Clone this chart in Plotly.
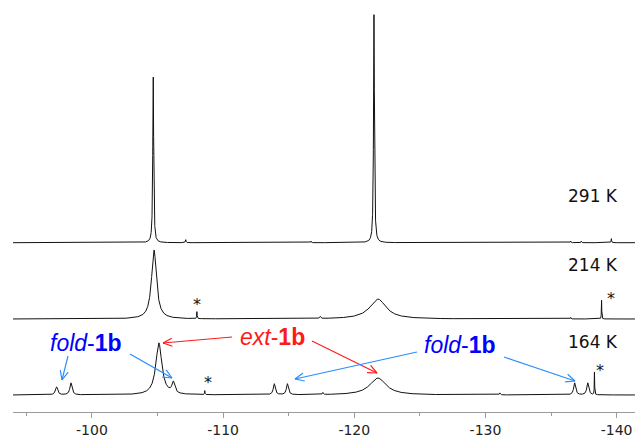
import numpy as np
import plotly.graph_objects as go

# ---------------- data (peak lists) ----------------
# chemical shift axis (ppm), left -> right
X_LEFT, X_RIGHT = -93.98, -141.4

# 291 K trace
t291_pos = [-104.67, -121.5, -107.15, -116.7, -136.5, -137.3, -139.6]
t291_height = [166, 228, 3, 1.5, 1.5, 1.5, 4]
t291_fwhm = [0.08, 0.08, 0.05, 0.05, 0.05, 0.05, 0.04]
t291_baseline = 169.3

# 214 K trace
t214_pos = [-104.73, -108.0, -117.4, -121.8, -136.5, -138.85]
t214_height = [69, 7, 2, 20, 1.5, 19]
t214_fwhm = [0.45, 0.04, 0.1, 1.5, 0.05, 0.03]
t214_baseline = 93

# 164 K trace
t164_pos = [-97.3, -98.4, -105.1, -106.2, -108.6, -113.9, -114.9,
            -117.6, -121.8, -131.1, -136.8, -137.8, -138.31]
t164_height = [8, 12, 52, 11, 4, 11, 11, 2, 17, 2, 12, 12, 23]
t164_fwhm = [0.2, 0.2, 0.55, 0.25, 0.04, 0.18, 0.18, 0.08, 1.5, 0.08, 0.18, 0.18, 0.03]
t164_baseline = 17

trace_labels = ["291 K", "214 K", "164 K"]
tick_vals = [-100, -110, -120, -130, -140]
tick_text = ["-100", "-110", "-120", "-130", "-140"]
minor_vals = [-95, -105, -115, -125, -135]

# ---------------- build figure ----------------
grid = np.arange(X_LEFT, X_RIGHT, -0.004)


def spectrum(pos, height, fwhm, base):
    y = np.full_like(grid, base, dtype=float)
    for p, h, w in zip(pos, height, fwhm):
        y += h / (1.0 + ((grid - p) / (w / 2.0)) ** 2)
    return y


fig = go.Figure()
for pos, h, w, b in [(t291_pos, t291_height, t291_fwhm, t291_baseline),
                     (t214_pos, t214_height, t214_fwhm, t214_baseline),
                     (t164_pos, t164_height, t164_fwhm, t164_baseline)]:
    fig.add_trace(go.Scatter(x=grid, y=spectrum(pos, h, w, b), mode="lines",
                             line=dict(color="#111111", width=1),
                             hoverinfo="skip", showlegend=False))

W, H = 635, 437
ML, MR, MT, MB = 13, 0, 0, 25
YMAX = H - MT - MB
plot_w = W - ML - MR
px_per_ppm = plot_w / (X_LEFT - X_RIGHT)


def to_data(px, py):
    """pixel -> data coordinates (for annotation placement)"""
    return X_LEFT - (px - ML) / px_per_ppm, (H - MB) - py


shapes = []
annotations = []


def arrow(p0, p1, color):
    x0, y0 = to_data(*p0)
    x1, y1 = to_data(*p1)
    shapes.append(dict(type="line", xref="x", yref="y", x0=x0, y0=y0, x1=x1, y1=y1,
                       line=dict(color=color, width=1.2)))
    dx, dy = p1[0] - p0[0], p1[1] - p0[1]
    L = (dx * dx + dy * dy) ** 0.5
    ux, uy = dx / L, dy / L
    blen, ang = 10.0, np.deg2rad(24)
    for s in (1, -1):
        c, sn = np.cos(s * ang), np.sin(s * ang)
        bx = -(ux * c - uy * sn) * blen
        by = -(ux * sn + uy * c) * blen
        bx0, by0 = to_data(p1[0] + bx, p1[1] + by)
        shapes.append(dict(type="line", xref="x", yref="y", x0=bx0, y0=by0, x1=x1, y1=y1,
                           line=dict(color=color, width=1.2)))


def text(px, py, s, size, color, family="Liberation Sans, Arial", anchor="center"):
    x, y = to_data(px, py)
    annotations.append(dict(x=x, y=y, xref="x", yref="y", text=s, showarrow=False,
                            xanchor=anchor, yanchor="middle",
                            font=dict(size=size, color=color, family=family)))


RED = "#ff1a1a"
BLUE_T = "#0000ff"
BLUE_A = "#2a8cff"

# temperature labels
for lab, py in zip(trace_labels, [196, 265, 342]):
    text(620, py, lab, 17, "#111111", family="DejaVu Sans", anchor="right")

# stars
for sx, sy in [(197, 304), (611, 298), (208, 382), (600, 370)]:
    text(sx, sy, "*", 16, "#111111", family="DejaVu Sans")

# compound labels
text(86, 343, "<i>fold</i>-<b>1b</b>", 23, BLUE_T)
text(272, 337, "<i>ext</i>-<b>1b</b>", 23, RED)
text(460, 345, "<i>fold</i>-<b>1b</b>", 23, BLUE_T)

# arrows
arrow((232, 337), (163, 343), RED)
arrow((312, 341), (377, 373), RED)
arrow((68, 356), (62, 380), BLUE_A)
arrow((130, 354), (172, 378), BLUE_A)
arrow((417, 352), (295, 379), BLUE_A)
arrow((504, 357), (575, 381), BLUE_A)

# axis unit label
text(56, 428, "ppm", 14, "#222222", family="DejaVu Sans")

fig.update_layout(
    width=W, height=H,
    margin=dict(l=ML, r=MR, t=MT, b=MB),
    paper_bgcolor="white", plot_bgcolor="white",
    showlegend=False,
    shapes=shapes, annotations=annotations,
    xaxis=dict(range=[X_LEFT, X_RIGHT], showgrid=False, zeroline=False,
               showline=True, linecolor="#9a9a9a", linewidth=1,
               ticks="outside", ticklen=5, tickcolor="#9a9a9a", tickwidth=1,
               tickvals=tick_vals, ticktext=tick_text,
               tickfont=dict(size=14, color="#222222", family="DejaVu Sans"),
               minor=dict(tickvals=minor_vals, ticks="outside", ticklen=3,
                          tickcolor="#9a9a9a", tickwidth=1),
               fixedrange=True),
    yaxis=dict(range=[0, YMAX], visible=False, fixedrange=True),
)

fig.write_html("out.html",
               config={"displayModeBar": False, "staticPlot": True},
               post_script="document.body.style.margin='0px';"
                           "document.body.style.overflow='hidden';")
